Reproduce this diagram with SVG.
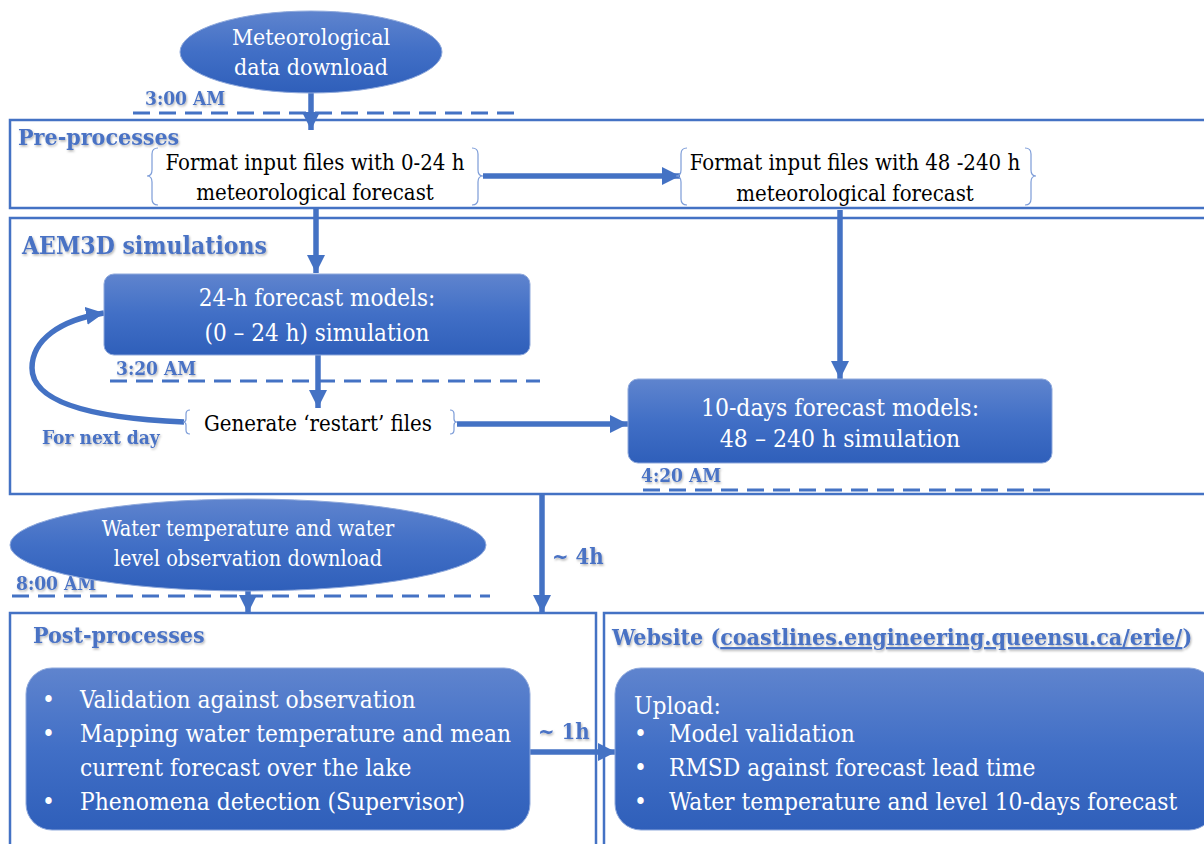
<svg xmlns="http://www.w3.org/2000/svg" width="1204" height="844" viewBox="0 0 1204 844">
<defs>
<linearGradient id="g" x1="0" y1="0" x2="0" y2="1">
<stop offset="0" stop-color="#5F84CE"/>
<stop offset="0.5" stop-color="#416FC6"/>
<stop offset="1" stop-color="#2F5FBA"/>
</linearGradient>
<marker id="ah" viewBox="0 0 10 10" refX="10" refY="5" markerWidth="18" markerHeight="18" markerUnits="userSpaceOnUse" orient="auto">
<path d="M0,0 L10,5 L0,10 Z" fill="#4472C4"/>
</marker>
<filter id="sh" x="-5%" y="-20%" width="110%" height="140%">
<feDropShadow dx="1" dy="1.5" stdDeviation="0.8" flood-color="#000" flood-opacity="0.3"/>
</filter>
</defs>
<style>
.frame{fill:none;stroke:#4472C4;stroke-width:2.5}
.node{fill:url(#g);stroke:#8FA9DC;stroke-width:1}
.wt{fill:#fff;font-size:24px;font-family:"DejaVu Serif",serif;font-stretch:condensed}
.bt{fill:#000;font-size:22px;font-family:"DejaVu Serif",serif;font-stretch:condensed}
.lbl{fill:#4A72C4;font-family:"DejaVu Serif",serif;font-stretch:condensed;font-weight:bold;font-size:23px;filter:url(#sh)}
.tm{fill:#4A72C4;font-family:"DejaVu Serif",serif;font-stretch:condensed;font-weight:bold;font-size:19px;filter:url(#sh)}
.dash{fill:none;stroke:#4472C4;stroke-width:3;stroke-dasharray:17 9}
.con{fill:none;stroke:#4472C4;stroke-width:5.5}
.brace{fill:none;stroke:#7C9CD8;stroke-width:1.2}
</style>
<rect width="1204" height="844" fill="#fff"/>

<g id="preprocesses">
<rect class="frame" x="10" y="120" width="1200" height="88"/>
<text class="lbl" x="18" y="145">Pre-processes</text>
</g>
<g id="aem3d">
<rect class="frame" x="10" y="218" width="1200" height="276"/>
<text class="lbl" x="22" y="254" style="font-size:24.5px">AEM3D simulations</text>
</g>
<g id="postprocesses">
<rect class="frame" x="10" y="613" width="586" height="240"/>
<text class="lbl" x="33" y="643">Post-processes</text>
</g>
<g id="website">
<rect class="frame" x="604" y="613" width="610" height="240"/>
<text class="lbl" x="612" y="645">Website (<tspan text-decoration="underline">coastlines.engineering.queensu.ca/erie/</tspan>)</text>
</g>

<g id="timelines">
<path class="dash" d="M133,113 H515"/>
<text class="tm" x="145" y="105">3:00 AM</text>
<path class="dash" d="M110,381 H540"/>
<text class="tm" x="116" y="375">3:20 AM</text>
<path class="dash" d="M643,490 H1058"/>
<text class="tm" x="641" y="482">4:20 AM</text>
<path class="dash" d="M12,596 H490"/>
<text class="tm" x="16" y="590">8:00 AM</text>
</g>

<g id="connectors">
<path class="con" d="M311,93 V130" marker-end="url(#ah)"/>
<path class="con" d="M483,176 H680" marker-end="url(#ah)"/>
<path class="con" d="M316,208 V273" marker-end="url(#ah)"/>
<path class="con" d="M840,210 V379" marker-end="url(#ah)"/>
<path class="con" d="M318,355 V408" marker-end="url(#ah)"/>
<path class="con" d="M184,422 C90,418 32,402 32,368 C32,340 60,320 104,313" marker-end="url(#ah)"/>
<path class="con" d="M457,424 H628" marker-end="url(#ah)"/>
<path class="con" d="M542,494 V613" marker-end="url(#ah)"/>
<path class="con" d="M248,588 V613" marker-end="url(#ah)"/>
<path class="con" d="M530,752 H616" marker-end="url(#ah)"/>
<text class="tm" x="552" y="564" style="font-size:22px">~ 4h</text>
<text class="tm" x="538" y="739" style="font-size:22px">~ 1h</text>
<text class="tm" x="42" y="444">For next day</text>
</g>

<g id="met-download">
<ellipse class="node" cx="311" cy="52" rx="131" ry="41"/>
<text class="wt" x="311" y="45" text-anchor="middle" style="font-size:23px">Meteorological</text>
<text class="wt" x="311" y="75" text-anchor="middle" style="font-size:23px">data download</text>
</g>

<g id="format-0-24">
<path class="brace" d="M158,148 Q152,148 152,154 V170 Q152,176 147,176 Q152,176 152,182 V199 Q152,205 158,205"/>
<path class="brace" d="M472,148 Q478,148 478,154 V170 Q478,176 483,176 Q478,176 478,182 V199 Q478,205 472,205"/>
<text class="bt" x="315" y="170" text-anchor="middle">Format input files with 0-24 h</text>
<text class="bt" x="315" y="200" text-anchor="middle">meteorological forecast</text>
</g>

<g id="format-48-240">
<path class="brace" d="M687,148 Q681,148 681,154 V170 Q681,176 676,176 Q681,176 681,182 V199 Q681,205 687,205"/>
<path class="brace" d="M1025,148 Q1031,148 1031,154 V170 Q1031,176 1036,176 Q1031,176 1031,182 V199 Q1031,205 1025,205"/>
<text class="bt" x="855" y="170" text-anchor="middle">Format input files with 48 -240 h</text>
<text class="bt" x="855" y="201" text-anchor="middle">meteorological forecast</text>
</g>

<g id="model-24h">
<rect class="node" x="104" y="274" width="426" height="81" rx="10"/>
<text class="wt" x="317" y="306" text-anchor="middle">24-h forecast models:</text>
<text class="wt" x="317" y="341" text-anchor="middle">(0 – 24 h) simulation</text>
</g>

<g id="restart">
<path class="brace" d="M190,410 Q186,410 186,414 V419 Q186,422 183,422 Q186,422 186,425 V430 Q186,434 190,434"/>
<path class="brace" d="M450,410 Q454,410 454,414 V419 Q454,422 457,422 Q454,422 454,425 V430 Q454,434 450,434"/>
<text class="bt" x="318" y="431" text-anchor="middle">Generate ‘restart’ files</text>
</g>

<g id="model-10d">
<rect class="node" x="628" y="379" width="424" height="84" rx="10"/>
<text class="wt" x="840" y="416" text-anchor="middle" style="font-size:24.5px">10-days forecast models:</text>
<text class="wt" x="840" y="447" text-anchor="middle" style="font-size:24.5px">48 – 240 h simulation</text>
</g>

<g id="obs-download">
<ellipse class="node" cx="248" cy="545" rx="238" ry="46"/>
<text class="wt" x="248" y="536" text-anchor="middle" style="font-size:21.5px">Water temperature and water</text>
<text class="wt" x="248" y="566" text-anchor="middle" style="font-size:21.5px">level observation download</text>
</g>

<g id="post-box">
<rect class="node" x="26" y="668" width="504" height="162" rx="26"/>
<g class="wt" style="font-size:24.3px">
<text x="42" y="708">•</text><text x="80" y="708">Validation against observation</text>
<text x="42" y="742">•</text><text x="80" y="742">Mapping water temperature and mean</text>
<text x="80" y="776">current forecast over the lake</text>
<text x="42" y="810">•</text><text x="80" y="810">Phenomena detection (Supervisor)</text>
</g>
</g>

<g id="web-box">
<rect class="node" x="615" y="668" width="600" height="162" rx="26"/>
<g class="wt" style="font-size:24.3px">
<text x="634" y="714">Upload:</text>
<text x="634" y="742">•</text><text x="669" y="742">Model validation</text>
<text x="634" y="776">•</text><text x="669" y="776">RMSD against forecast lead time</text>
<text x="634" y="810">•</text><text x="669" y="810">Water temperature and level 10-days forecast</text>
</g>
</g>
</svg>
